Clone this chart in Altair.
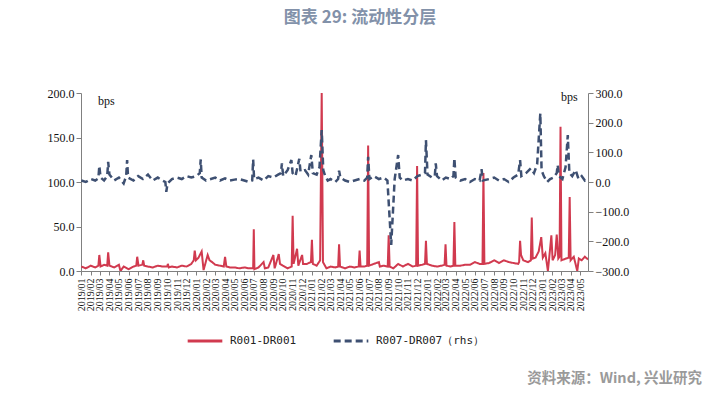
import altair as alt
import pandas as pd

TITLE = "图表 29: 流动性分层"
SOURCE = "资料来源：Wind, 兴业研究"
RED_NAME = "R001-DR001"
BLUE_NAME = "R007-DR007（rhs）"

red_dates = [
    "2019-01-02", "2019-01-16", "2019-02-01", "2019-02-15", "2019-02-25", "2019-02-28", "2019-03-04",
    "2019-03-15", "2019-03-25", "2019-03-28", "2019-04-01", "2019-04-16", "2019-05-01", "2019-05-06",
    "2019-05-16", "2019-06-01", "2019-06-16", "2019-06-25", "2019-06-28", "2019-07-02", "2019-07-14",
    "2019-07-17", "2019-07-20", "2019-08-01", "2019-08-16", "2019-09-01", "2019-09-16", "2019-10-01",
    "2019-10-03", "2019-10-06", "2019-10-16", "2019-11-01", "2019-11-16", "2019-12-01", "2019-12-16",
    "2019-12-24", "2019-12-27", "2019-12-31", "2020-01-08", "2020-01-18", "2020-01-24", "2020-02-06",
    "2020-02-12", "2020-02-20", "2020-03-01", "2020-03-16", "2020-03-28", "2020-04-01", "2020-04-05",
    "2020-04-16", "2020-05-01", "2020-05-16", "2020-06-01", "2020-06-16", "2020-06-29", "2020-07-01",
    "2020-07-03", "2020-07-16", "2020-08-01", "2020-08-05", "2020-08-16", "2020-09-01", "2020-09-05",
    "2020-09-18", "2020-09-22", "2020-10-01", "2020-10-16", "2020-10-29", "2020-11-01", "2020-11-04",
    "2020-11-15", "2020-11-19", "2020-12-01", "2020-12-04", "2020-12-16", "2020-12-29", "2021-01-01",
    "2021-01-04", "2021-01-16", "2021-01-27", "2021-02-01", "2021-02-05", "2021-02-16", "2021-03-01",
    "2021-03-16", "2021-03-25", "2021-03-28", "2021-03-31", "2021-04-16", "2021-05-01", "2021-05-16",
    "2021-05-29", "2021-06-01", "2021-06-04", "2021-06-16", "2021-06-25", "2021-06-28", "2021-07-01",
    "2021-07-16", "2021-08-01", "2021-08-04", "2021-08-16", "2021-08-29", "2021-09-01", "2021-09-04",
    "2021-09-16", "2021-10-01", "2021-10-16", "2021-11-01", "2021-11-16", "2021-11-27", "2021-11-30",
    "2021-12-03", "2021-12-16", "2021-12-25", "2021-12-28", "2021-12-31", "2022-01-16", "2022-02-01",
    "2022-02-16", "2022-02-25", "2022-02-28", "2022-03-03", "2022-03-16", "2022-03-25", "2022-03-28",
    "2022-03-31", "2022-04-16", "2022-05-01", "2022-05-16", "2022-06-01", "2022-06-16", "2022-06-25",
    "2022-06-28", "2022-07-01", "2022-07-16", "2022-08-01", "2022-08-16", "2022-09-01", "2022-09-16",
    "2022-10-01", "2022-10-16", "2022-10-19", "2022-10-22", "2022-10-25", "2022-11-01", "2022-11-16",
    "2022-11-25", "2022-11-28", "2022-12-01", "2022-12-10", "2022-12-20", "2022-12-28", "2023-01-02",
    "2023-01-10", "2023-01-18", "2023-01-22", "2023-01-29", "2023-02-02", "2023-02-10", "2023-02-15",
    "2023-02-20", "2023-02-24", "2023-02-27", "2023-03-02", "2023-03-16", "2023-03-25", "2023-03-28",
    "2023-03-31", "2023-04-10", "2023-04-21", "2023-04-26", "2023-05-05", "2023-05-15", "2023-05-25",
]
red_values = [
    5, 3, 6, 4, 6, 18, 5,
    7, 6, 21, 6, 4, 7, 0,
    5, 2, 5, 6, 16, 6, 7,
    12, 6, 5, 4, 6, 5, 5,
    8, 4, 5, 4, 6, 5, 8,
    12, 23, 12, 15, 22, 1, 18,
    12, 10, 7, 6, 5, 16, 5,
    4, 4, 3, 4, 3, 3, 47,
    2, 4, 10, 3, 4, 18, 3,
    19, 8, 6, 3, 5, 62, 8,
    25, 6, 18, 8, 8, 10, 35,
    8, 6, 12, 200, 10, 3, 5,
    4, 5, 30, 5, 3, 5, 4,
    5, 23, 5, 5, 6, 141, 6,
    8, 10, 5, 6, 5, 40, 5,
    3, 8, 5, 8, 5, 6, 118,
    6, 7, 8, 34, 8, 6, 5,
    6, 7, 30, 6, 5, 6, 55,
    6, 6, 7, 7, 10, 8, 8,
    110, 8, 9, 12, 9, 12, 10,
    9, 8, 10, 34, 18, 12, 10,
    12, 60, 14, 15, 22, 38, 15,
    20, 0, 14, 40, 12, 18, 41,
    14, 16, 162, 12, 14, 15, 83,
    12, 16, 0, 14, 12, 16, 13,
]

blue_dates = [
    "2019-01-02", "2019-01-16", "2019-02-01", "2019-02-15", "2019-02-25", "2019-02-28", "2019-03-04",
    "2019-03-15", "2019-03-25", "2019-03-28", "2019-04-01", "2019-04-16", "2019-05-01", "2019-05-16",
    "2019-05-24", "2019-05-27", "2019-05-30", "2019-06-16", "2019-07-01", "2019-07-16", "2019-08-01",
    "2019-08-16", "2019-09-01", "2019-09-16", "2019-09-25", "2019-09-28", "2019-10-02", "2019-10-16",
    "2019-11-01", "2019-11-16", "2019-12-01", "2019-12-16", "2020-01-01", "2020-01-12", "2020-01-15",
    "2020-01-18", "2020-02-01", "2020-02-16", "2020-03-01", "2020-03-16", "2020-04-01", "2020-04-16",
    "2020-05-01", "2020-05-16", "2020-06-01", "2020-06-16", "2020-06-26", "2020-06-29", "2020-07-02",
    "2020-07-16", "2020-08-01", "2020-08-16", "2020-09-01", "2020-09-16", "2020-09-25", "2020-09-28",
    "2020-10-02", "2020-10-16", "2020-10-28", "2020-11-01", "2020-11-10", "2020-11-22", "2020-11-26",
    "2020-12-10", "2020-12-20", "2020-12-30", "2021-01-04", "2021-01-16", "2021-01-25", "2021-02-01",
    "2021-02-06", "2021-02-12", "2021-02-20", "2021-03-01", "2021-03-16", "2021-03-25", "2021-03-28",
    "2021-04-01", "2021-04-16", "2021-05-01", "2021-05-16", "2021-06-01", "2021-06-16", "2021-06-25",
    "2021-06-28", "2021-07-02", "2021-07-16", "2021-08-01", "2021-08-16", "2021-08-28", "2021-09-09",
    "2021-09-20", "2021-10-01", "2021-10-06", "2021-10-16", "2021-11-01", "2021-11-16", "2021-12-01",
    "2021-12-16", "2021-12-25", "2021-12-28", "2022-01-02", "2022-01-16", "2022-01-25", "2022-01-28",
    "2022-02-01", "2022-02-16", "2022-03-01", "2022-03-16", "2022-03-25", "2022-03-28", "2022-04-01",
    "2022-04-16", "2022-05-01", "2022-05-16", "2022-06-01", "2022-06-16", "2022-06-22", "2022-06-26",
    "2022-07-16", "2022-08-01", "2022-08-16", "2022-09-01", "2022-09-16", "2022-10-01", "2022-10-16",
    "2022-10-22", "2022-10-26", "2022-11-10", "2022-11-25", "2022-12-05", "2022-12-15", "2022-12-25",
    "2022-12-29", "2023-01-05", "2023-01-16", "2023-01-25", "2023-02-05", "2023-02-15", "2023-02-18",
    "2023-02-22", "2023-03-05", "2023-03-15", "2023-03-22", "2023-03-27", "2023-04-05", "2023-04-16",
    "2023-04-25", "2023-05-05", "2023-05-15", "2023-05-25",
]
blue_values = [
    5, 0, 10, 5, 12, 54, 15,
    5, 20, 68, 25, 5, 15, -5,
    20, 74, 15, 5, 20, 10, 25,
    5, 15, 5, 0, -33, -5, 10,
    15, 10, 20, 15, 20, 30, 76,
    15, 5, 10, 15, 5, 12, 5,
    8, 10, 5, 0, 5, 76, 10,
    15, 5, 20, 15, 25, 30, 63,
    20, 40, 74, 30, 20, 78, 35,
    40, 25, 91, 30, 25, 50, 175,
    40, 20, 5, 10, 0, 10, 38,
    15, 5, 0, 5, 10, 5, 15,
    85, 10, 20, 10, 15, 5, -212,
    10, 91, 15, 5, 10, 5, 20,
    25, 30, 141, 25, 15, 20, 63,
    20, 5, 15, 10, 20, 80, 15,
    5, 10, 0, 10, 5, 43, 5,
    10, 15, 5, 10, 0, 15, 25,
    74, 20, 30, 46, 30, 60, 231,
    40, 20, 0, 10, 15, 30, 57,
    20, 10, 50, 158, 30, 20, 40,
    10, 20, 5, 12,
]

red_df = pd.DataFrame({"date": red_dates, "value": red_values, "series": RED_NAME})
blue_df = pd.DataFrame({"date": blue_dates, "value": blue_values, "series": BLUE_NAME})

color_scale = alt.Scale(domain=[RED_NAME, BLUE_NAME], range=["#D13A4F", "#3E5072"])
dash_scale = alt.Scale(domain=[RED_NAME, BLUE_NAME], range=[[1, 0], [7, 4]])

legend = alt.Legend(
    title=None, orient="none", legendX=105, legendY=229, direction="horizontal",
    symbolType="stroke", symbolSize=1200, symbolStrokeWidth=3, columnPadding=30,
    labelFont="DejaVu Sans Mono", labelFontSize=11, labelColor="#222222", labelOffset=6,
)

SERIF = "Liberation Serif"

x_enc = alt.X(
    "date:T",
    scale=alt.Scale(domain=[alt.DateTime(year=2019, month=1, date=1),
                            alt.DateTime(year=2023, month=5, date=25)]),
    axis=alt.Axis(
        title=None, format="%Y/%m", tickCount={"interval": "month", "step": 1},
        labelAngle=270, labelFont=SERIF, labelFontSize=10, labelColor="#111111",
        labelOverlap=False, labelPadding=3, tickSize=4, tickColor="#808080",
        domainColor="#808080", grid=False,
    ),
)

axis_common = dict(
    title=None, format=".1f", grid=False, labelFont=SERIF, labelFontSize=12,
    labelColor="#111111", tickSize=5, tickColor="#808080", domainColor="#808080",
)

red_line = alt.Chart(red_df).mark_line(strokeWidth=2, clip=True).encode(
    x=x_enc,
    y=alt.Y("value:Q", scale=alt.Scale(domain=[0, 200]),
            axis=alt.Axis(values=[0, 50, 100, 150, 200], orient="left", **axis_common)),
    color=alt.Color("series:N", scale=color_scale, legend=legend),
    strokeDash=alt.StrokeDash("series:N", scale=dash_scale, legend=legend),
)

blue_line = alt.Chart(blue_df).mark_line(strokeWidth=2.5, clip=True).encode(
    x=x_enc,
    y=alt.Y("value:Q", scale=alt.Scale(domain=[-300, 300]),
            axis=alt.Axis(values=[-300, -200, -100, 0, 100, 200, 300], orient="right", **axis_common)),
    color=alt.Color("series:N", scale=color_scale, legend=legend),
    strokeDash=alt.StrokeDash("series:N", scale=dash_scale, legend=legend),
)

bps_df = pd.DataFrame({"t": ["bps"]})
bps_left = alt.Chart(bps_df).mark_text(
    align="left", baseline="middle", font=SERIF, fontSize=12, color="#111111"
).encode(x=alt.value(17), y=alt.value(8), text="t:N")
bps_right = alt.Chart(bps_df).mark_text(
    align="left", baseline="middle", font=SERIF, fontSize=12, color="#111111"
).encode(x=alt.value(480), y=alt.value(4), text="t:N")

src_df = pd.DataFrame({"t": [SOURCE]})
source = alt.Chart(src_df).mark_text(
    align="right", baseline="middle", font="Noto Sans CJK SC", fontSize=14.5, fontWeight="bold",
    color="#9A9A9A"
).encode(x=alt.value(621), y=alt.value(286), text="t:N")

title_df = pd.DataFrame({"t": [TITLE]})
title = alt.Chart(title_df).mark_text(
    align="center", baseline="middle", font="Noto Sans CJK SC", fontSize=17, fontWeight="bold",
    color="#8291A9"
).encode(x=alt.value(279), y=alt.value(-75), text="t:N")

chart = alt.layer(red_line, blue_line, bps_left, bps_right, source, title).resolve_scale(
    y="independent"
).properties(
    width=507, height=178,
    autosize=alt.AutoSizeParams(type="none"),
    padding={"left": 73, "top": 85, "right": 116, "bottom": 116},
).configure_view(stroke=None).configure_axis(labelFont=SERIF)

chart.save("out.html", embed_options={"renderer": "svg", "actions": False})
